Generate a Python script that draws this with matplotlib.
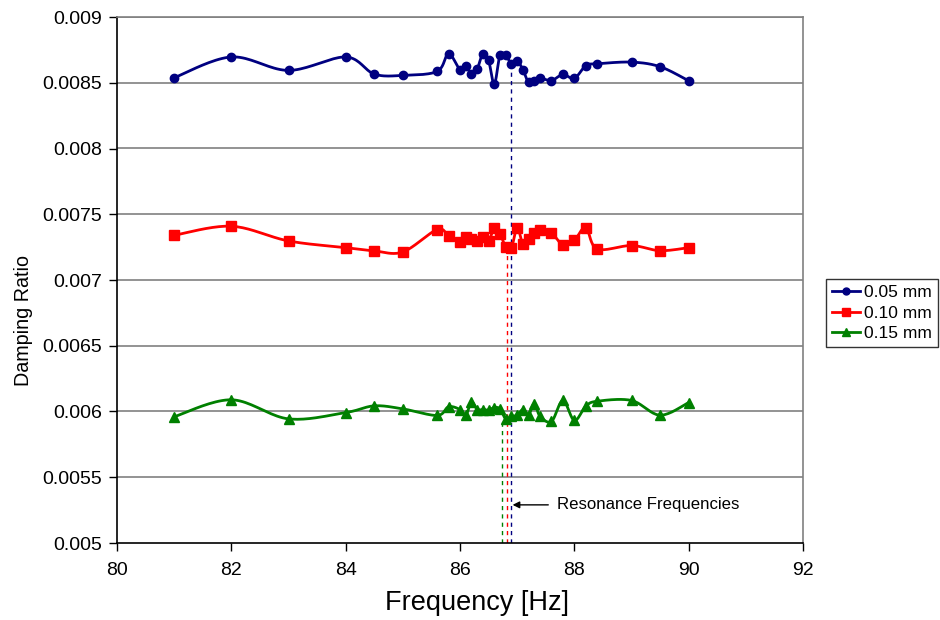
import numpy as np
import matplotlib
matplotlib.use("Agg")
import matplotlib.pyplot as plt
from matplotlib.lines import Line2D

plt.rcParams['font.family'] = ['Liberation Sans', 'DejaVu Sans']

# ---- data ----
freq_005 = [81, 82, 83, 84, 84.5, 85, 85.6, 85.8, 86.0, 86.1, 86.2, 86.3, 86.4, 86.5, 86.6,
            86.7, 86.8, 86.9, 87.0, 87.1, 87.2, 87.3, 87.4, 87.6, 87.8, 88.0, 88.2, 88.4,
            89.0, 89.5, 90]
damp_005 = [0.008538, 0.008696, 0.008594, 0.008696, 0.008566, 0.008556, 0.008586, 0.00872,
            0.008599, 0.008624, 0.00857, 0.008604, 0.00872, 0.00867, 0.00849, 0.008710,
            0.008708, 0.008644, 0.008665, 0.0086, 0.008502, 0.008517, 0.008536, 0.008517,
            0.008563, 0.008533, 0.00863, 0.008644, 0.008657, 0.008622, 0.008515]

freq_010 = [81, 82, 83, 84, 84.5, 85, 85.6, 85.8, 86.0, 86.1, 86.2, 86.3, 86.4, 86.5, 86.6,
            86.7, 86.8, 86.9, 87.0, 87.1, 87.2, 87.3, 87.4, 87.6, 87.8, 88.0, 88.2, 88.4,
            89.0, 89.5, 90]
damp_010 = [0.00734, 0.007409, 0.007297, 0.007246, 0.007221, 0.007213, 0.007384, 0.007335,
            0.007289, 0.007327, 0.007315, 0.007298, 0.007327, 0.007297, 0.007396, 0.007353,
            0.007252, 0.007246, 0.007399, 0.007274, 0.007315, 0.007358, 0.007384, 0.007358,
            0.007267, 0.007302, 0.007399, 0.007236, 0.007262, 0.007223, 0.007246]

freq_015 = [81, 82, 83, 84, 84.5, 85, 85.6, 85.8, 86.0, 86.1, 86.2, 86.3, 86.4, 86.5, 86.6,
            86.7, 86.8, 86.9, 87.0, 87.1, 87.2, 87.3, 87.4, 87.6, 87.8, 88.0, 88.2, 88.4,
            89.0, 89.5, 90]
damp_015 = [0.00596, 0.006089, 0.005944, 0.005992, 0.006043, 0.00602, 0.00597, 0.006036,
            0.006015, 0.00597, 0.006071, 0.006015, 0.006015, 0.00601, 0.00603, 0.00602,
            0.005944, 0.005964, 0.00597, 0.006015, 0.005977, 0.006059, 0.005964, 0.005924,
            0.006084, 0.005932, 0.00604, 0.006078, 0.006084, 0.005972, 0.006068]

series_labels = ['0.05 mm', '0.10 mm', '0.15 mm']
res_freq = [86.9, 86.82, 86.74]
res_top = [0.008644, 0.007252, 0.005944]
annot_text = 'Resonance Frequencies'

colors = ['#000080', '#FF0000', '#008000']
markers = ['o', 's', '^']
msizes = [6, 7, 7]

fig = plt.figure(figsize=(9.4, 6.2), dpi=100)
ax = fig.add_axes([117/940, 1-543/620, 686/940, 526/620])
ax.set_xlim(80, 92)
ax.set_ylim(0.005, 0.009)

XS = 686/12.0
YS = 526/0.004


def smooth(xs, ys, n=20):
    # Excel-like smoothed line (Bezier with Catmull-Rom control points), in pixel space
    u = (np.asarray(xs) - 80) * XS
    v = (np.asarray(ys) - 0.005) * YS
    P = np.column_stack([u, v])
    out = []
    m = len(P)
    for i in range(m - 1):
        p0 = P[i - 1] if i > 0 else P[i]
        p1 = P[i]
        p2 = P[i + 1]
        p3 = P[i + 2] if i + 2 < m else P[i + 1]
        c1 = p1 + (p2 - p0) / 6.0
        c2 = p2 - (p3 - p1) / 6.0
        t = np.linspace(0, 1, n, endpoint=(i == m - 2))[:, None]
        b = ((1 - t) ** 3) * p1 + 3 * ((1 - t) ** 2) * t * c1 + 3 * (1 - t) * t ** 2 * c2 + t ** 3 * p2
        out.append(b)
    B = np.vstack(out)
    return B[:, 0] / XS + 80, B[:, 1] / YS + 0.005


# grid
for yv in np.arange(0.0055, 0.00901, 0.0005):
    ax.axhline(yv, color='#808080', lw=1.2, zorder=1)

freqs = [freq_005, freq_010, freq_015]
damps = [damp_005, damp_010, damp_015]
for f, d, c, mk, ms in zip(freqs, damps, colors, markers, msizes):
    sx, sy = smooth(f, d)
    ax.plot(sx, sy, color=c, lw=2.0, zorder=3, solid_capstyle='round')
    ax.plot(f, d, ls='none', marker=mk, color=c, ms=ms, zorder=4)

for rf, rt, c in zip(res_freq, res_top, colors):
    ax.plot([rf, rf], [0.005, rt], color=c, lw=1.0, ls=(0, (3, 3)), zorder=2)

ax.annotate(annot_text, xy=(86.92, 0.00529), xytext=(87.69, 0.00529),
            fontsize=12.1, va='center', ha='left',
            arrowprops=dict(arrowstyle='-|>', color='black', lw=1.0,
                            mutation_scale=10, shrinkA=4, shrinkB=0))

ax.set_xticks(np.arange(80, 93, 2))
ax.set_yticks(np.arange(0.005, 0.00901, 0.0005))
ax.set_yticklabels(['0.005', '0.0055', '0.006', '0.0065', '0.007', '0.0075', '0.008', '0.0085', '0.009'])
ax.tick_params(axis='both', labelsize=14, length=6, width=1, direction='out', colors='black')
ax.tick_params(axis='x', pad=8)
ax.tick_params(axis='y', pad=5)

for s in ['left', 'bottom']:
    ax.spines[s].set_color('black')
    ax.spines[s].set_linewidth(1.2)
for s in ['top', 'right']:
    ax.spines[s].set_color('#808080')
    ax.spines[s].set_linewidth(1.2)

ax.set_xlabel('Frequency [Hz]', fontsize=19.5)
ax.xaxis.set_label_coords((477 - 117) / 686, (543 - 590) / 526)
ax.set_ylabel('Damping Ratio', fontsize=14.2)
ax.yaxis.set_label_coords((33 - 117) / 686, (543 - 321) / 526)

handles = [Line2D([0], [0], color=c, lw=2, marker=mk, ms=ms - 1)
           for c, mk, ms in zip(colors, markers, msizes)]
leg = fig.legend(handles, series_labels, loc='center left',
                 bbox_to_anchor=(826/940, 1 - 313/620), fontsize=12.5,
                 frameon=True, fancybox=False, edgecolor='black',
                 handlelength=1.6, handletextpad=0.25, borderpad=0.35,
                 labelspacing=0.3, borderaxespad=0)
leg.get_frame().set_linewidth(1.0)

fig.savefig('out.png', dpi=100)
